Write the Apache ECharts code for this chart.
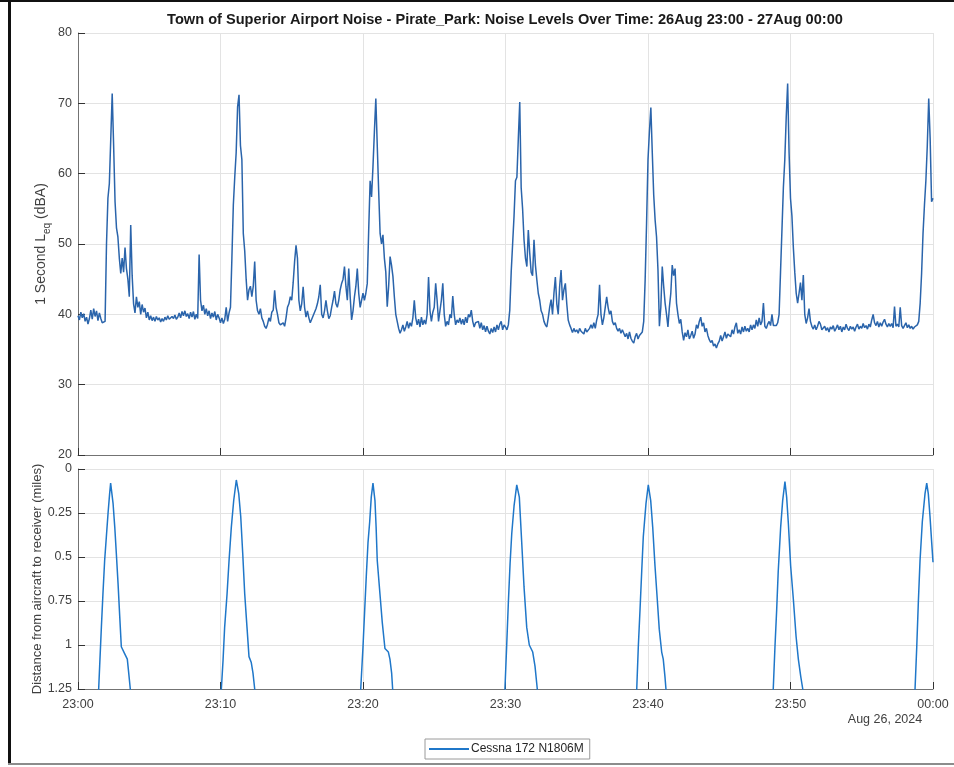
<!DOCTYPE html>
<html>
<head>
<meta charset="utf-8">
<script src="https://cdn.jsdelivr.net/npm/echarts@6/dist/echarts.min.js"></script>
<style>
  html, body { margin: 0; padding: 0; background: #fff; }
  #chart { width: 954px; height: 767px; }
</style>
</head>
<body>
<div id="chart"></div>
<script>
// minutes after 23:00, one value every 0.1 min (6 s)
const noiseStep = 0.1;
const noiseDb = [
  39.8, 39.2, 40.3, 39.5, 40.1, 39.0, 39.6, 38.6, 39.4, 40.6,
  39.3, 40.8, 39.7, 40.5, 39.1, 40.2, 39.4, 38.8, 38.7, 39.0,
  50.0, 56.5, 58.6, 65.0, 71.4, 64.0, 56.0, 52.3, 51.0, 48.0,
  45.8, 48.0, 46.0, 49.5, 46.5, 45.0, 42.5, 52.7, 45.5, 41.5,
  40.2, 42.5, 41.0, 41.8, 40.0, 41.4, 40.3, 40.9, 39.5, 40.3,
  39.2, 39.8, 39.1, 39.6, 39.0, 39.7, 39.2, 39.5, 38.9, 39.4,
  39.0, 39.6, 39.2, 39.8, 39.3, 39.1, 39.7, 39.4, 39.9, 39.3,
  39.6, 40.2, 39.5, 40.4, 39.8, 40.5, 39.7, 40.1, 39.4, 40.3,
  39.6, 40.4, 39.3, 40.0, 39.4, 48.5, 42.0, 40.5, 41.3, 40.0,
  40.8, 39.8, 40.5, 39.4, 40.2, 39.6, 40.4, 39.2, 40.0, 39.5,
  38.8, 39.5, 38.7, 39.3, 41.0, 39.0, 40.2, 41.0, 48.0, 55.5,
  59.5, 63.0, 69.5, 71.2, 64.0, 62.0, 51.5, 49.0, 45.0, 42.0,
  43.5, 44.0, 42.5, 44.0, 47.5, 42.0, 40.5, 40.0, 40.8, 39.5,
  39.0, 38.3, 38.0, 38.6, 39.5, 39.0, 40.3, 40.6, 43.4, 41.0,
  40.0, 38.8, 38.5, 38.4, 38.8, 38.3, 39.5, 41.0, 41.5, 42.5,
  42.0, 44.5, 47.5, 49.8, 48.0, 42.0, 40.5, 41.5, 43.9, 41.0,
  39.6, 40.5, 39.5, 38.8, 39.0, 39.8, 40.0, 40.8, 41.5, 42.5,
  44.2, 40.0, 39.5, 40.5, 42.0, 40.5, 39.4, 39.8, 41.0, 42.0,
  43.3, 41.5, 41.0, 42.0, 43.5, 44.4, 45.0, 46.8, 44.0, 42.0,
  46.5, 42.5, 39.2, 40.5, 42.5, 44.0, 46.5, 43.0, 41.0, 42.0,
  43.0, 42.0, 43.0, 44.4, 52.0, 59.0, 56.7, 61.0, 66.0, 70.7,
  64.0, 57.5, 51.5, 50.0, 51.3, 48.0, 46.0, 41.1, 44.0, 48.2,
  47.0, 45.4, 42.5, 40.0, 39.0, 38.0, 37.3, 37.8, 38.5, 37.6,
  38.2, 39.0, 38.0, 38.8, 38.3, 39.5, 42.0, 39.5, 38.5, 39.3,
  38.2, 39.6, 38.5, 39.2, 38.6, 40.0, 45.3, 40.5, 39.0, 40.3,
  41.0, 44.4, 42.0, 39.0, 40.5, 42.0, 44.4, 40.0, 38.3, 39.0,
  38.5, 40.0, 39.5, 42.6, 40.0, 38.5, 39.2, 38.8, 39.5, 38.6,
  39.3, 38.5, 39.6, 38.8, 40.0, 39.6, 40.6, 39.0, 38.2, 38.8,
  38.6, 39.0, 38.0, 38.8, 37.8, 38.4, 37.5, 38.3, 37.6, 37.2,
  38.0, 37.4, 38.2, 37.5, 38.5, 37.8, 38.6, 39.0, 37.8, 38.5,
  38.2, 37.8, 38.5, 40.6, 46.0, 50.0, 54.0, 59.0, 59.5, 65.0,
  70.2, 58.0, 55.0, 50.6, 48.0, 46.8, 52.0, 48.7, 46.0, 45.5,
  50.6, 47.0, 44.9, 43.0, 42.0, 40.5, 40.0, 39.0, 38.5, 38.2,
  39.5, 41.0, 42.1, 40.0, 43.0, 45.3, 41.5, 40.0, 44.0, 46.3,
  42.0, 43.5, 44.4, 41.5, 39.2, 38.5, 38.0, 37.4, 38.0, 37.5,
  37.8, 37.3, 38.0, 37.6, 37.8, 37.2, 38.0, 37.5, 37.3, 38.0,
  38.5, 38.0, 38.8, 38.0, 39.2, 40.0, 44.2, 40.0, 38.5, 39.5,
  41.0, 42.5, 41.0, 40.0, 40.5, 39.0, 38.5, 38.8, 38.0, 37.6,
  38.0, 37.3, 37.8, 37.3, 36.8, 37.3, 36.5, 37.5, 36.6, 36.2,
  35.9, 36.8, 37.3, 36.5, 37.0, 36.8, 37.5, 39.0, 44.9, 53.0,
  62.0, 66.0, 69.4, 63.0, 57.0, 53.4, 51.0, 46.3, 38.3, 41.0,
  46.8, 44.0, 41.6, 40.0, 38.2, 41.0, 43.0, 47.0, 45.5, 46.5,
  41.6, 40.0, 38.7, 39.3, 37.5, 36.3, 37.4, 36.8, 37.8, 36.5,
  37.0, 37.6, 36.6, 37.2, 38.5, 38.0, 39.0, 39.6, 38.3, 38.8,
  37.5, 38.0, 37.0, 36.4, 36.0, 36.3, 35.5, 35.8, 35.2, 35.8,
  36.2, 37.0, 36.2, 36.8, 37.5, 36.6, 37.2, 37.3, 36.8, 37.8,
  37.2, 38.2, 38.8, 37.3, 37.8, 37.2, 38.2, 37.5, 38.3, 37.6,
  38.0, 37.5, 38.5, 37.8, 38.5, 38.0, 39.2, 38.3, 39.5, 38.5,
  39.0, 41.6, 38.3, 38.0, 38.6, 39.0, 38.4, 40.0, 38.4, 38.6,
  38.4, 38.8, 40.0, 46.0, 52.0, 58.0, 62.0, 68.0, 72.8, 63.0,
  56.5, 54.0, 49.5, 46.0, 43.0, 41.6, 43.0, 44.5, 42.0, 45.6,
  40.0, 38.7, 39.5, 40.8, 39.0, 38.3, 37.9, 38.5, 37.8, 38.3,
  39.0, 38.6, 37.8, 37.6, 38.3, 37.7, 38.1, 37.5, 38.2, 37.9,
  38.4, 37.6, 38.0, 38.5, 37.8, 38.3, 37.5, 38.2, 37.8, 38.6,
  38.0, 37.7, 38.3, 37.9, 38.2, 37.6, 38.2, 38.6, 37.9, 38.3,
  38.0, 38.7, 38.1, 38.4, 37.9, 38.6, 38.2, 39.2, 40.0, 38.8,
  38.4, 39.0, 38.2, 38.8, 38.3, 38.9, 39.3, 38.6, 38.2, 38.7,
  38.3, 38.7, 38.1, 41.1, 38.3, 38.6, 38.2, 41.0, 38.4, 38.0,
  38.4, 38.8, 38.1, 38.5, 38.0, 38.3, 37.9, 38.2, 38.0, 38.5,
  39.0, 41.6, 45.8, 51.5, 55.5, 59.0, 64.0, 70.7, 65.0, 56.0,
  56.5
];

// aircraft passes: [minute after 23:00, miles]
const pass1 = [[1.40,1.32],[1.45,1.25],[1.52,1.12],[1.64,0.90],[1.75,0.71],[1.87,0.52],[1.99,0.385],[2.11,0.25],[2.22,0.14],[2.29,0.08],[2.33,0.09],[2.46,0.195],[2.58,0.33],[2.69,0.48],[2.81,0.65],[2.93,0.84],[3.04,1.01],[3.28,1.05],[3.46,1.08],[3.56,1.16],[3.67,1.25],[3.72,1.32]];
const pass2 = [[10.02,1.32],[10.06,1.25],[10.18,1.085],[10.29,0.90],[10.46,0.71],[10.6,0.52],[10.76,0.33],[10.93,0.176],[11.11,0.0625],[11.17,0.07],[11.28,0.14],[11.42,0.27],[11.56,0.48],[11.7,0.71],[11.86,0.90],[12.0,1.066],[12.16,1.10],[12.28,1.16],[12.4,1.25],[12.45,1.32]];
const pass3 = [[19.8,1.32],[19.84,1.25],[20.0,1.01],[20.12,0.80],[20.23,0.61],[20.35,0.42],[20.47,0.30],[20.58,0.16],[20.7,0.08],[20.84,0.18],[20.92,0.33],[21.0,0.52],[21.19,0.71],[21.35,0.87],[21.54,1.02],[21.78,1.04],[21.89,1.08],[22.01,1.16],[22.08,1.25],[22.12,1.32]];
const pass4 = [[29.92,1.32],[29.96,1.25],[30.08,1.01],[30.2,0.76],[30.32,0.54],[30.44,0.365],[30.6,0.21],[30.79,0.09],[30.86,0.08],[30.97,0.16],[31.14,0.42],[31.3,0.67],[31.49,0.90],[31.67,1.0],[31.91,1.04],[32.07,1.12],[32.23,1.25],[32.27,1.32]];
const pass5 = [[39.17,1.32],[39.21,1.25],[39.32,1.01],[39.44,0.80],[39.56,0.58],[39.67,0.385],[39.86,0.195],[40.02,0.09],[40.19,0.18],[40.33,0.33],[40.49,0.55],[40.65,0.74],[40.79,0.91],[40.96,1.04],[41.07,1.08],[41.19,1.18],[41.26,1.25],[41.3,1.32]];
const pass6 = [[48.75,1.32],[48.79,1.25],[48.91,1.01],[49.03,0.80],[49.14,0.58],[49.31,0.33],[49.45,0.18],[49.61,0.072],[49.73,0.16],[49.85,0.31],[50.01,0.55],[50.2,0.74],[50.39,0.95],[50.55,1.08],[50.72,1.18],[50.86,1.25],[50.9,1.32]];
const pass7 = [[58.7,1.32],[58.74,1.25],[58.86,1.01],[58.97,0.76],[59.09,0.52],[59.25,0.30],[59.44,0.14],[59.56,0.08],[59.67,0.14],[59.79,0.27],[59.91,0.42],[60.0,0.53]];

const noiseTicks = [20, 80, 10];
const distTicks = [0, 1.25, 0.25];
const timeTicks = [0, 60, 10];

const titleText = 'Town of Superior Airport Noise - Pirate_Park: Noise Levels Over Time: 26Aug 23:00 - 27Aug 00:00';
const seriesName = 'Cessna 172 N1806M';
const dateLabel = 'Aug 26, 2024';

const font = 'Liberation Sans, Arial, sans-serif';
const axisGrey = '#737373';
const textGrey = '#404040';
const gridGrey = '#e3e3e3';

const noiseData = noiseDb.map((v, i) => [+(i * noiseStep).toFixed(1), v]);
const distData = [];
[pass1, pass2, pass3, pass4, pass5, pass6, pass7].forEach((p, i) => {
  if (i > 0) distData.push([p[0][0] - 0.01, null]);
  p.forEach(d => distData.push(d));
});

function timeLabel(v) {
  const h = (23 + Math.floor(v / 60)) % 24;
  const m = v % 60;
  return String(h).padStart(2, '0') + ':' + String(m).padStart(2, '0');
}

function xAxisCfg(idx, showLabels) {
  return {
    type: 'value', gridIndex: idx,
    min: timeTicks[0], max: timeTicks[1], interval: timeTicks[2],
    axisLine: { show: true, onZero: false, lineStyle: { color: axisGrey, width: 1 } },
    axisTick: { show: true, inside: true, length: 7, lineStyle: { color: '#333' } },
    axisLabel: { show: showLabels, formatter: timeLabel, margin: 9, color: textGrey, fontSize: 12.5, fontFamily: font },
    splitLine: { show: true, lineStyle: { color: gridGrey, width: 1 } }
  };
}

var chart = echarts.init(document.getElementById('chart'));
chart.setOption({
  animation: false,
  backgroundColor: '#fff',
  title: {
    text: titleText, left: 505, top: 12, padding: 0, textAlign: 'center',
    textStyle: { fontFamily: font, fontSize: 14.6, fontWeight: 'bold', color: '#1a1a1a' }
  },
  grid: [
    { left: 78, right: 21, top: 33, height: 422 },
    { left: 78, right: 21, top: 469, height: 220 }
  ],
  xAxis: [xAxisCfg(0, false), xAxisCfg(1, true)],
  yAxis: [
    {
      type: 'value', gridIndex: 0,
      min: noiseTicks[0], max: noiseTicks[1], interval: noiseTicks[2],
      name: '{n|1 Second L}{s|eq}{n| (dBA)}', nameLocation: 'middle', nameGap: 26,
      nameMoveOverlap: false,
      nameTextStyle: {
        rich: {
          n: { fontFamily: font, fontSize: 14, color: textGrey, lineHeight: 22 },
          s: { fontFamily: font, fontSize: 10, color: textGrey, lineHeight: 22, verticalAlign: 'bottom' }
        }
      },
      axisLine: { show: true, onZero: false, lineStyle: { color: axisGrey, width: 1 } },
      axisTick: { show: true, inside: true, length: 7, lineStyle: { color: '#333' } },
      axisLabel: { color: textGrey, fontSize: 12.5, fontFamily: font, margin: 6 },
      splitLine: { show: true, lineStyle: { color: gridGrey, width: 1 } }
    },
    {
      type: 'value', gridIndex: 1, inverse: true,
      min: distTicks[0], max: distTicks[1], interval: distTicks[2],
      name: 'Distance from aircraft to receiver (miles)', nameLocation: 'middle', nameGap: 34,
      nameMoveOverlap: false,
      nameTextStyle: { fontFamily: font, fontSize: 13, color: textGrey },
      axisLine: { show: true, onZero: false, lineStyle: { color: axisGrey, width: 1 } },
      axisTick: { show: true, inside: true, length: 7, lineStyle: { color: '#333' } },
      axisLabel: { color: textGrey, fontSize: 12.5, fontFamily: font, margin: 6 },
      splitLine: { show: true, lineStyle: { color: gridGrey, width: 1 } }
    }
  ],
  legend: {
    data: [{ name: seriesName, icon: 'rect' }], left: 425, top: 739,
    borderColor: '#9a9a9a', borderWidth: 1, borderRadius: 0, padding: [4, 6, 4, 4],
    itemWidth: 40, itemHeight: 2, itemGap: 2,
    textStyle: { fontFamily: font, fontSize: 12, color: '#262626', padding: [0, 0, 0, -3] }
  },
  series: [
    {
      type: 'line', xAxisIndex: 0, yAxisIndex: 0, symbol: 'none',
      data: noiseData, lineStyle: { color: '#2a64ab', width: 1.5 }, itemStyle: { color: '#2a64ab' }
    },
    {
      name: seriesName, type: 'line', xAxisIndex: 1, yAxisIndex: 1, symbol: 'none',
      data: distData, connectNulls: false,
      lineStyle: { color: '#1f77c9', width: 1.5 }, itemStyle: { color: '#1f77c9' }
    }
  ],
  graphic: [
    { type: 'text', x: 885, y: 720, style: { text: dateLabel, align: 'center', verticalAlign: 'middle', fill: textGrey, font: '12.5px ' + font } },
    { type: 'rect', shape: { x: 0, y: 0, width: 954, height: 2 }, style: { fill: '#111' } },
    { type: 'rect', shape: { x: 8, y: 0, width: 3, height: 765 }, style: { fill: '#111' } },
    { type: 'rect', shape: { x: 8, y: 763, width: 946, height: 2 }, style: { fill: '#8c8c8c' } }
  ]
});
</script>
</body>
</html>
